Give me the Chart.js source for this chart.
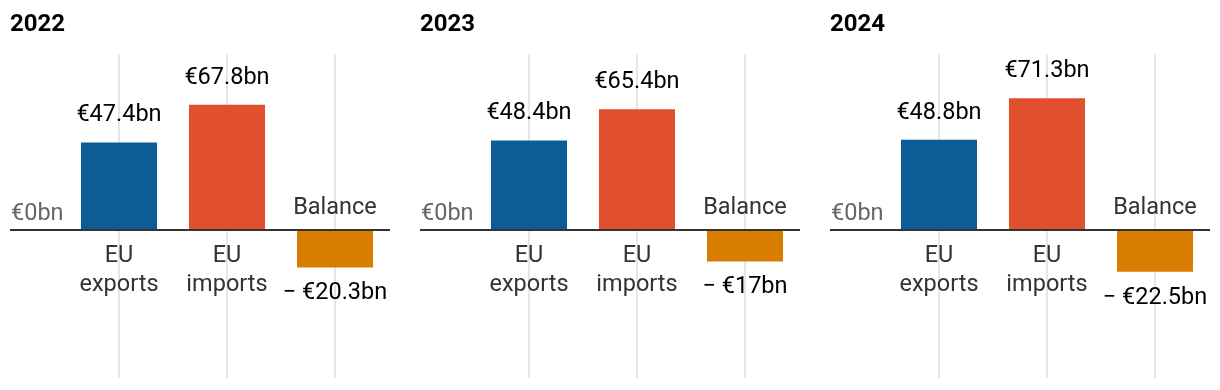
<!DOCTYPE html>
<html>
<head>
<meta charset="utf-8">
<script src="https://cdn.jsdelivr.net/npm/chart.js@4"></script>
<style>
  body { margin: 0; background: #fff; overflow: hidden; }
  .row { display: flex; width: 1230px; }
  .panel { position: relative; width: 410px; height: 390px; flex: 0 0 410px; }
</style>
</head>
<body>
<div class="row">
  <div class="panel"><canvas id="c0"></canvas></div>
  <div class="panel"><canvas id="c1"></canvas></div>
  <div class="panel"><canvas id="c2"></canvas></div>
</div>
<script>
const years = ['2022', '2023', '2024'];
const categories = [['EU', 'exports'], ['EU', 'imports'], 'Balance'];
const exportsBn = [47.4, 48.4, 48.8];
const importsBn = [67.8, 65.4, 71.3];
const balanceBn = [-20.3, -17, -22.5];
const barColors = ['#0b5c97', '#e0502f', '#d97d00'];
const zeroLabel = '€0bn';

Chart.defaults.font.family = 'Roboto';

// zero line, axis label, value labels and category names
const annotate = {
	id: 'annotate',
	afterDatasetsDraw(chart) {
		const { ctx, chartArea, scales: { y } } = chart;
		const zero = y.getPixelForValue(0);
		ctx.save();
		ctx.strokeStyle = '#333';
		ctx.lineWidth = 2;
		ctx.beginPath();
		ctx.moveTo(10, zero);
		ctx.lineTo(chartArea.right + 1, zero);
		ctx.stroke();

		ctx.font = '23.5px Roboto';
		ctx.textBaseline = 'middle';
		ctx.textAlign = 'left';
		ctx.fillStyle = '#666';
		ctx.fillText(zeroLabel, 11, zero - 16);

		ctx.textAlign = 'center';
		const values = chart.data.datasets[0].data;
		chart.getDatasetMeta(0).data.forEach((bar, i) => {
			const v = values[i];
			const label = chart.data.labels[i];
			const lines = Array.isArray(label) ? label : [label];
			ctx.fillStyle = '#000';
			if (v >= 0) {
				ctx.fillText('€' + v + 'bn', bar.x, bar.y - 27);
				ctx.fillStyle = '#333';
				lines.forEach((t, k) => ctx.fillText(t, bar.x, zero + 26 + k * 29));
			} else {
				ctx.fillText('− €' + Math.abs(v) + 'bn', bar.x, bar.y + 26);
				ctx.fillStyle = '#333';
				lines.forEach((t, k) => ctx.fillText(t, bar.x, zero - 22 - (lines.length - 1 - k) * 29));
			}
		});
		ctx.restore();
	}
};

function makeChart(id, i) {
	return new Chart(document.getElementById(id), {
		type: 'bar',
		data: {
			labels: categories,
			datasets: [{
				data: [exportsBn[i], importsBn[i], balanceBn[i]],
				backgroundColor: barColors,
				barPercentage: 0.704,
				categoryPercentage: 1
			}]
		},
		options: {
			responsive: true,
			maintainAspectRatio: false,
			animation: false,
			layout: { padding: { left: 10, right: 21, top: 0, bottom: 12 } },
			plugins: {
				legend: { display: false },
				tooltip: { enabled: false },
				title: {
					display: true,
					text: years[i],
					align: 'start',
					color: '#000',
					font: { size: 24, weight: 'bold' },
					padding: { top: 11, bottom: 14.6 }
				}
			},
			scales: {
				x: {
					grid: { offset: false, color: '#e6e6e6', lineWidth: 2, drawTicks: false },
					border: { display: false },
					ticks: { display: false }
				},
				y: {
					min: -80,
					max: 95,
					grid: { display: false },
					border: { display: false },
					ticks: { display: false },
					afterFit: scale => { scale.width = 55; }
				}
			}
		},
		plugins: [annotate]
	});
}

years.forEach((year, i) => makeChart('c' + i, i));
</script>
</body>
</html>
